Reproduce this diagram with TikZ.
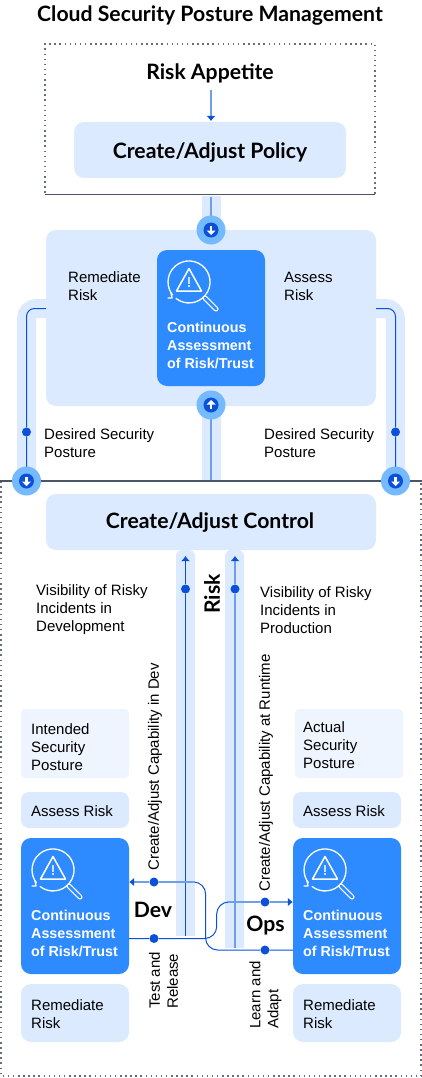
\documentclass[tikz,border=0pt]{standalone}
\usepackage{fontspec}
\setmainfont{Liberation Sans}
\newfontfamily\headfont{Lato}
\usetikzlibrary{arrows.meta}
\definecolor{softblue}{HTML}{DBEAFE}
\definecolor{paleblue}{HTML}{EEF5FF}
\definecolor{cardblue}{HTML}{2E8BFF}
\definecolor{ringblue}{HTML}{75B9FF}
\definecolor{deepblue}{HTML}{0A50D8}
\definecolor{lineblue}{HTML}{6F9FE8}
\definecolor{rulegray}{HTML}{4A5568}
\tikzset{
  softbox/.style={fill=softblue,rounded corners=10pt,inner sep=0pt},
  palebox/.style={fill=paleblue,rounded corners=4pt,inner sep=0pt},
  cardbox/.style={fill=cardblue,rounded corners=10pt,inner sep=0pt,minimum width=108pt,minimum height=136pt},
  labeltext/.style={font=\fontsize{15}{18}\selectfont,align=left,anchor=west,inner sep=0pt},
  cardtext/.style={font=\fontsize{14.3}{18}\selectfont\bfseries,text=white,align=left,anchor=west,inner sep=0pt},
  headtext/.style={font=\headfont\fontsize{21.2}{24}\selectfont\bfseries,inner sep=0pt},
  uptext/.style={labeltext,rotate=90},
  band/.style={line width=19pt,softblue},
  thinline/.style={draw=deepblue,line width=1pt},
  midline/.style={draw=lineblue,line width=1.6pt},
  tipped/.style={-{Latex[length=5pt,width=9pt,color=deepblue]}},
  dotmark/.style={circle,fill=deepblue,minimum size=9pt,inner sep=0pt},
  dotrule/.style={draw=rulegray!85,line width=1.2pt,dash pattern=on 1.5pt off 3.6pt},
  badgering/.style={circle,fill=ringblue,minimum size=29pt,inner sep=0pt},
  badgecore/.style={circle,fill=deepblue,minimum size=15pt,inner sep=0pt},
  % Down arrow inside its ring, rotated for the upward one
  badge/.pic={
    \node[badgering] (-ring) at (0,0) {};
    \node[badgecore] at (0,0) {};
    \fill[white] (-4.5,0.5) -- (4.5,0.5) -- (0,5) -- cycle;
    \fill[white] (-1.2,-4) rectangle (1.2,1);
  },
  % Magnifier with a warning triangle, origin at the centre of the lens
  lensicon/.pic={
    \draw[white,line width=1.3pt,line cap=round] (-12.9,16.5) arc[start angle=232,end angle=578,radius=21pt];
    \draw[white,line width=1.3pt,line cap=round,line join=round] (-21,16) -- (-17,16) -- (-18,11);
    \draw[white,line width=5pt,line cap=round] (16,16) -- (27,27);
    \draw[cardblue,line width=2.6pt,line cap=round] (16,16) -- (27,27);
    \draw[white,line width=1.5pt,line join=round] (0,-13.5) -- (12.5,9) -- (-12.5,9) -- cycle;
    \fill[white!75!cardblue] (-0.8,-5) rectangle (0.8,2);
    \fill[white!75!cardblue] (-0.8,3.4) rectangle (0.8,5);
  },
}
\begin{document}
\begin{tikzpicture}[x=1pt,y=-1pt]
  \useasboundingbox (0,0) rectangle (422,1078);

  % Title and the policy frame
  \node[headtext] (title) at (210,16) {Cloud Security Posture Management};
  \draw[dotrule] (375,194) -- (375,44) -- (45,44) -- (45,194);
  \draw[rulegray,line width=1.3pt] (45,194.5) -- (375,194.5);
  \node[headtext] (appetite) at (210,73) {Risk Appetite};
  \node[softbox,minimum width=272pt,minimum height=56pt] (policy) at (210,150) {};
  \node[headtext] at (210,153) {Create/Adjust Policy};
  \draw[midline,tipped] (211,90) -- (211,121);

  % Join points of the channels
  \coordinate (topin) at (211,230);
  \coordinate (topout) at (211,405);
  \coordinate (leftin) at (26.5,481);
  \coordinate (rightin) at (395.5,481);

  % Bands behind the central block
  \draw[band] (211,196) -- (topin);
  \draw[band] (topout) -- (211,481);
  \draw[band,rounded corners=10pt] (60,308.5) -- (26.5,308.5) -- (leftin);
  \draw[band,rounded corners=10pt] (362,308.5) -- (395.5,308.5) -- (rightin);

  % Central block
  \node[softbox,minimum width=330pt,minimum height=176pt] (central) at (211,318) {};
  \node[cardbox] (midcard) at (211,318) {};
  \pic at (189,282) {lensicon};
  \node[cardtext] at (167,345) {Continuous\\Assessment\\of Risk/Trust};
  \node[labeltext] at (68,286) {Remediate\\Risk};
  \node[labeltext] at (284,286) {Assess\\Risk};
  \node[labeltext] at (44,443) {Desired Security\\Posture};
  \node[labeltext] at (264,443) {Desired Security\\Posture};

  % Lines in the bands
  \node[dotmark] (leftdot) at (26.5,432) {};
  \node[dotmark] (rightdot) at (395.5,432) {};
  \draw[midline] (211,197) -- (topin);
  \draw[midline] (topout) -- (211,481);
  \draw[thinline,rounded corners=8pt] (central.west |- 0,308.5) -- (26.5,308.5) -- (leftdot) -- (leftin);
  \draw[thinline,rounded corners=8pt] (central.east |- 0,308.5) -- (395.5,308.5) -- (rightdot) -- (rightin);

  % Lower frame
  \draw[dotrule] (1,481) -- (1,1076) -- (421,1076) -- (421,481);
  \draw[rulegray,line width=1.3pt] (0,481) -- (422,481);
  \pic at (topin) {badge};
  \pic[rotate=180] at (topout) {badge};
  \pic at (leftin) {badge};
  \pic at (rightin) {badge};

  % Control block and the two rising bands
  \fill[softblue] (176,936) [rounded corners=6pt] -- (176,550) -- (195,550) [sharp corners] -- (195,936) -- cycle;
  \fill[softblue] (225,948) [rounded corners=6pt] -- (225,550) -- (244,550) [sharp corners] -- (244,948) -- cycle;
  \node[softbox,minimum width=330pt,minimum height=56pt] (control) at (211,522) {};
  \node[headtext] at (210,523) {Create/Adjust Control};
  \node[dotmark] (devrise) at (185.5,589) {};
  \node[dotmark] (opsrise) at (235,589) {};
  \draw[thinline,tipped] (185.5,936) -- (devrise) -- (185.5,556);
  \draw[midline,tipped] (235,948) -- (opsrise) -- (235,556);
  \node[headtext,rotate=90] at (212,594) {Risk};
  \node[labeltext] at (36,610) {Visibility of Risky\\Incidents in\\Development};
  \node[labeltext] at (260,610) {Visibility of Risky\\Incidents in\\Production};
  \node[uptext] at (155,871) {Create/Adjust Capability in Dev};
  \node[uptext] at (266,892) {Create/Adjust Capability at Runtime};

  % Dev column
  \node[palebox,minimum width=108pt,minimum height=69pt] (intended) at (75,743.5) {};
  \node[labeltext] at (31,747) {Intended\\Security\\Posture};
  \node[softbox,rounded corners=8pt,minimum width=108pt,minimum height=36pt] (devassess) at (75,810) {};
  \node[labeltext] at (31,811) {Assess Risk};
  \node[cardbox] (devcard) at (75,906) {};
  \pic at (53,870) {lensicon};
  \node[cardtext] at (31,933) {Continuous\\Assessment\\of Risk/Trust};
  \node[softbox,minimum width=108pt,minimum height=58pt] (devfix) at (75,1013) {};
  \node[labeltext] at (31,1014) {Remediate\\Risk};

  % Ops column
  \node[palebox,minimum width=108pt,minimum height=69pt] (actual) at (349,743.5) {};
  \node[labeltext] at (303,745) {Actual\\Security\\Posture};
  \node[softbox,rounded corners=8pt,minimum width=108pt,minimum height=36pt] (opsassess) at (347,810) {};
  \node[labeltext] at (303,811) {Assess Risk};
  \node[cardbox] (opscard) at (347,906) {};
  \pic at (325,870) {lensicon};
  \node[cardtext] at (303,933) {Continuous\\Assessment\\of Risk/Trust};
  \node[softbox,minimum width=108pt,minimum height=58pt] (opsfix) at (347,1013) {};
  \node[labeltext] at (303,1014) {Remediate\\Risk};

  % Crossing connectors between the two cards
  \node[dotmark] (capdev) at (154,882) {};
  \node[dotmark] (release) at (154,938.5) {};
  \node[dotmark] (capops) at (265,902) {};
  \node[dotmark] (learn) at (265,950) {};
  \coordinate (bendlearn) at (205.6,950);
  \coordinate (bendcap) at (205.6,882);
  \coordinate (bendrelease) at (216.7,938.5);
  \coordinate (bendops) at (216.7,902);
  \draw[thinline,rounded corners=12pt] (opscard.west |- learn) -- (learn) -- (bendlearn) -- (bendcap) -- (capdev);
  \draw[midline,tipped] (195,882) -- (capdev) -- (devcard.east |- capdev);
  \draw[thinline,rounded corners=12pt] (devcard.east |- release) -- (release) -- (bendrelease) -- (bendops) -- (capops);
  \draw[midline,tipped] (228,902) -- (capops) -- (opscard.west |- capops);
  \node[headtext] at (153,910) {Dev};
  \node[headtext] at (265.5,926) {Ops};
  \node[uptext] at (163.5,1009) {Test and\\Release};
  \node[uptext] at (265.5,1029) {Learn and\\Adapt};
\end{tikzpicture}
\end{document}
